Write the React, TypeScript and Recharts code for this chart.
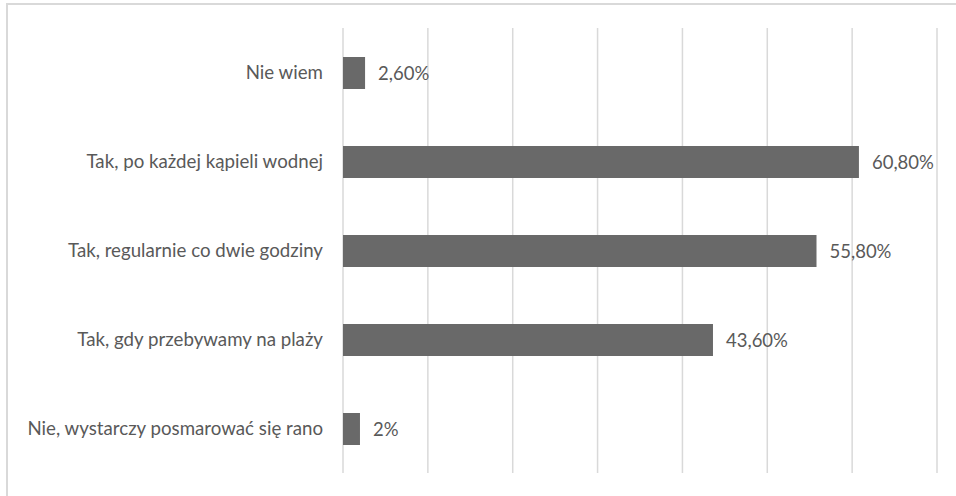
import { BarChart, Bar, XAxis, YAxis, CartesianGrid, LabelList } from "recharts"

const categories = [
  "Nie wiem",
  "Tak, po każdej kąpieli wodnej",
  "Tak, regularnie co dwie godziny",
  "Tak, gdy przebywamy na plaży",
  "Nie, wystarczy posmarować się rano",
]
const values = [2.6, 60.8, 55.8, 43.6, 2]
const valueLabels = ["2,60%", "60,80%", "55,80%", "43,60%", "2%"]
const xTicks = [0, 10, 20, 30, 40, 50, 60, 70]

const data = categories.map((name, i) => ({ name, value: values[i], label: valueLabels[i] }))

const FONT = "Lato, 'Noto Sans', sans-serif"

export default function App() {
  return (
    <div style={{ position: "absolute", left: 0, top: 0, width: 956, height: 496, background: "#fff", overflow: "hidden" }}>
      <div
        style={{
          position: "absolute",
          left: 6,
          top: 3,
          width: 960,
          height: 500,
          border: "2px solid #d9d9d9",
          boxSizing: "border-box",
        }}
      />
      <BarChart
        width={956}
        height={496}
        data={data}
        layout="vertical"
        margin={{ top: 28, right: 19, bottom: 23, left: 0 }}
        style={{ position: "absolute", left: 0, top: 0, fontFamily: FONT }}
      >
        <CartesianGrid horizontal={false} stroke="#d9d9d9" strokeWidth={1.5} />
        <XAxis type="number" domain={[0, 70]} ticks={xTicks} hide />
        <YAxis
          type="category"
          dataKey="name"
          width={343}
          axisLine={false}
          tickLine={false}
          tickSize={0}
          tickMargin={20}
          tick={{ fill: "#595959", fontSize: 18.7, fontFamily: FONT }}
        />
        <Bar dataKey="value" fill="#696969" barSize={32} isAnimationActive={false}>
          <LabelList dataKey="label" position="right" offset={13} fill="#595959" fontSize={18.5} fontFamily={FONT} />
        </Bar>
      </BarChart>
    </div>
  )
}
